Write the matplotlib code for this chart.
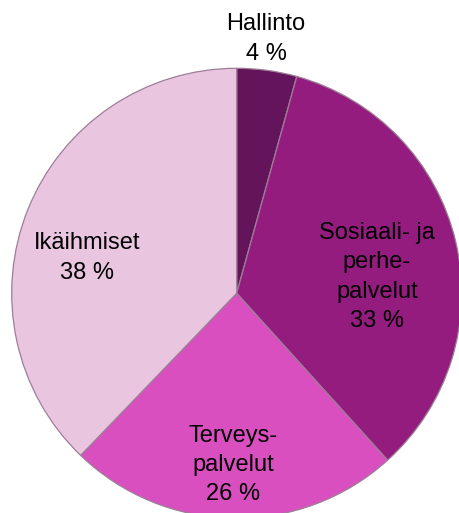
import matplotlib.pyplot as plt

# === Data ===
categories = ['Hallinto', 'Sosiaali- ja\nperhe-\npalvelut', 'Terveys-\npalvelut', 'Ikäihmiset']
shares = [4.3, 34.0, 23.9, 37.8]          # slice sizes as drawn
pct_labels = ['4 %', '33 %', '26 %', '38 %']
colors = ['#64145a', '#951c7f', '#da4fbf', '#eac5df']

# label anchor points (pixel coords, y from top)
label_pos = [(266, 39), (377, 277), (233, 465), (87, 258)]

W, H = 459, 513
fig = plt.figure(figsize=(W / 100, H / 100), dpi=100)
ax = fig.add_axes([0, 0, 1, 1])

ax.pie(shares, colors=colors, startangle=90, counterclock=False,
       center=(236.7, H - 293.3), radius=225, frame=True,
       wedgeprops=dict(edgecolor='#9c7e96', linewidth=0.9))

for cat, pct, (x, y) in zip(categories, pct_labels, label_pos):
    ax.text(x, H - y, cat + '\n' + pct, ha='center', va='center',
            multialignment='center', fontsize=17, family='Liberation Sans',
            linespacing=1.42, color='black')

ax.set_xlim(0, W)
ax.set_ylim(0, H)
ax.set_aspect('equal')
ax.axis('off')

fig.savefig('out.png', dpi=100)
